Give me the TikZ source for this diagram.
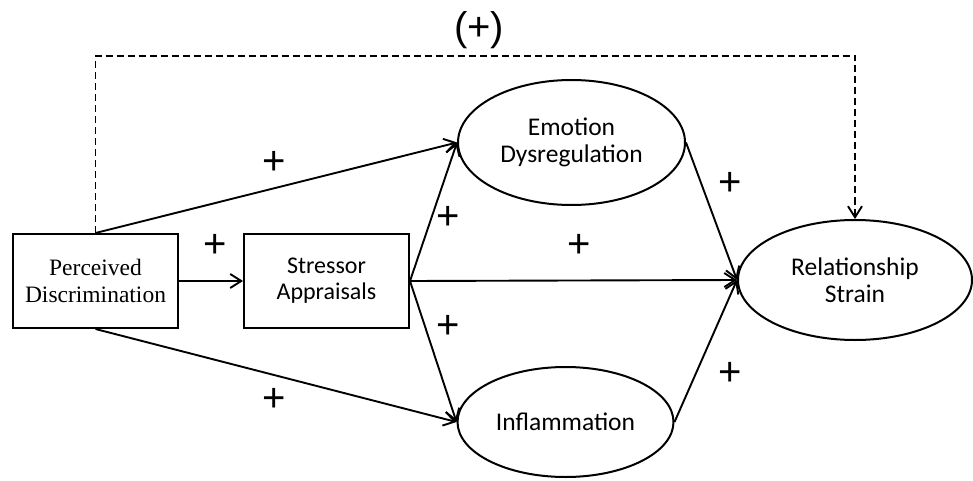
\documentclass[tikz,border=0pt]{standalone}
\usepackage{fontspec}
\setmainfont{Liberation Serif}
\newfontfamily\calib{Carlito}
\newfontfamily\plusfont{Liberation Sans}
\usetikzlibrary{shapes.geometric,arrows.meta}
\tikzset{
  boxnode/.style={draw, line width=2pt, minimum width=165pt, minimum height=94pt, inner sep=0pt, align=center},
  ellnode/.style={draw, ellipse, line width=2pt, inner sep=0pt, align=center, font=\calib\fontsize{25.5}{27}\selectfont},
  conn/.style={line width=1.9pt, -{Straight Barb[length=11pt,width=14pt,line width=1.9pt]}},
  dashconn/.style={conn, dash pattern=on 7pt off 4pt},
  sign/.style={font=\plusfont\fontsize{40}{42}\selectfont, inner sep=0pt}
}
\begin{document}
\begin{tikzpicture}[x=1pt,y=-1pt]
\useasboundingbox (0,0) rectangle (973,481);
\node[boxnode, font=\fontsize{23.5}{27}\selectfont] (perc) at (95.5,281) {Perceived\\Discrimination};
\node[boxnode, font=\calib\fontsize{24}{26}\selectfont] (stress) at (326.5,281) {Stressor\\Appraisals};
\node[ellnode, minimum width=227pt, minimum height=125pt] (emo) at (571.5,142.5) {Emotion\\Dysregulation};
\node[ellnode, minimum width=216pt, minimum height=110pt] (infl) at (565.5,422) {Inflammation};
\node[ellnode, minimum width=234pt, minimum height=120pt] (rel) at (855,280) {Relationship\\Strain};
\coordinate (c1) at (95.5,56);
\coordinate (c2) at (855,56);
\draw[dashconn] (perc.north) -- (c1) -- (c2) -- (rel.north);
\draw[conn] (perc.east) -- (stress.west);
\draw[conn] (perc.north) -- (emo.west);
\draw[conn] (perc.south) -- (infl.west);
\draw[conn] (stress.east) -- (emo.west);
\draw[conn] (stress.east) -- (infl.west);
\draw[conn] (stress.east) -- (rel.west);
\draw[conn] (emo.east) -- (rel.west);
\draw[conn] (infl.east) -- (rel.west);
\node[sign] (ltop) at (479,30) {(+)};
\node[sign] (l1) at (274,163) {+};
\node[sign] (l2) at (215,246) {+};
\node[sign] (l3) at (274,400) {+};
\node[sign] (l4) at (448,218) {+};
\node[sign] (l5) at (448,327) {+};
\node[sign] (l6) at (579,246) {+};
\node[sign] (l7) at (730,184) {+};
\node[sign] (l8) at (730,374) {+};
\end{tikzpicture}
\end{document}
